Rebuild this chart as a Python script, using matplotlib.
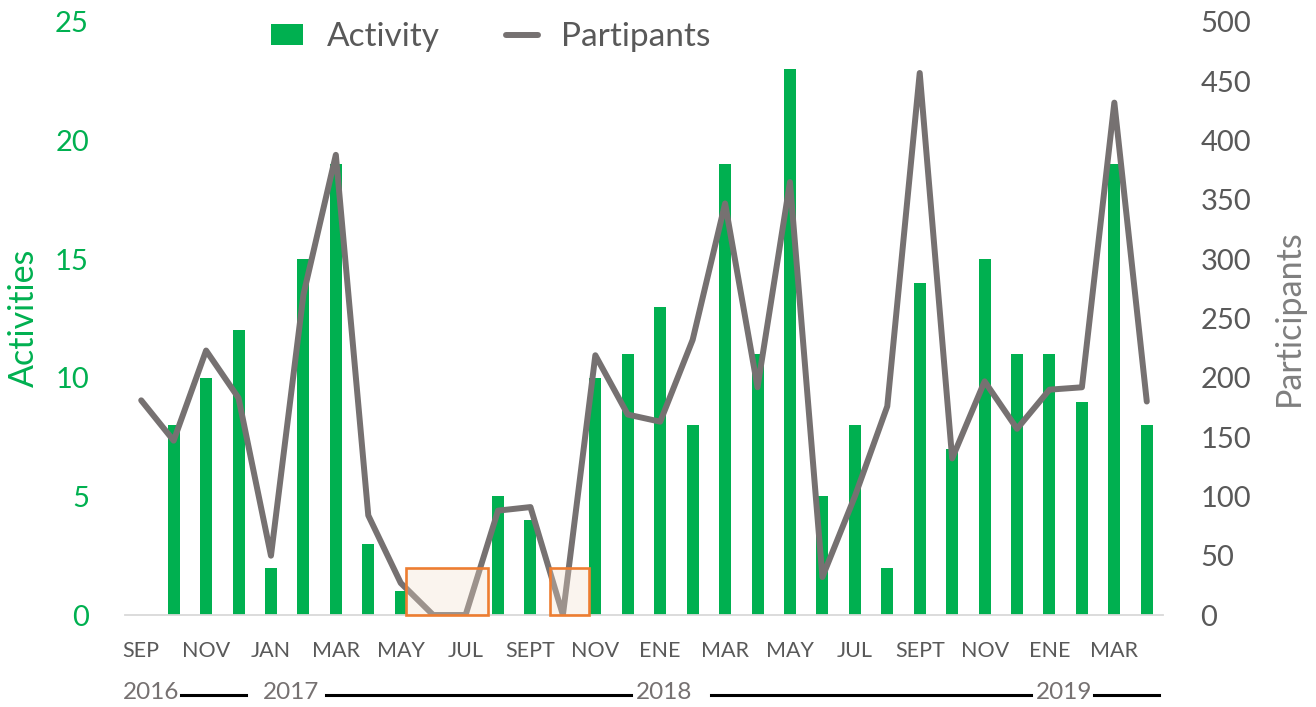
import matplotlib
matplotlib.use("Agg")
import matplotlib.pyplot as plt
from matplotlib.patches import Rectangle
from matplotlib.lines import Line2D
from matplotlib.patches import Patch
import numpy as np

plt.rcParams['font.family'] = ['Lato', 'DejaVu Sans']

months = ['SEP', 'OCT', 'NOV', 'DEC', 'JAN', 'FEB', 'MAR', 'APR', 'MAY', 'JUN', 'JUL', 'AUG',
          'SEPT', 'OCT', 'NOV', 'DEC', 'ENE', 'FEB', 'MAR', 'APR', 'MAY', 'JUN', 'JUL', 'AUG',
          'SEPT', 'OCT', 'NOV', 'DEC', 'ENE', 'FEB', 'MAR', 'APR']
activities = [0, 8, 10, 12, 2, 15, 19, 3, 1, 0, 0, 5, 4, 0, 10, 11, 13, 8, 19, 11, 23, 5, 8, 2,
              14, 7, 15, 11, 11, 9, 19, 8]
participants = [181, 147, 223, 183, 50, 270, 388, 84, 27, 0, 0, 88, 91, 0, 219, 169, 163, 232,
                347, 192, 365, 32, 100, 176, 457, 132, 197, 157, 190, 192, 432, 180]
years = ['2016', '2017', '2018', '2019']
left_ticks = [0, 5, 10, 15, 20, 25]
right_ticks = [0, 50, 100, 150, 200, 250, 300, 350, 400, 450, 500]

GREEN = '#00B050'
LINE = '#767171'
TXT = '#595959'
YEARC = '#767171'

W, H = 1316, 707
fig = plt.figure(figsize=(W / 100, H / 100), dpi=100)
ax = fig.add_axes([125 / W, 1 - 615 / H, (1163 - 125) / W, (615 - 22) / H])
ax2 = ax.twinx()

x = np.arange(len(months))
ax.bar(x, activities, width=0.37, color=GREEN, zorder=2, label='Activity')
ax2.plot(x, participants, color=LINE, lw=4.3, solid_capstyle='round',
         solid_joinstyle='round', zorder=2, label='Partipants')

ax.set_xlim(-0.5, len(months) - 0.5)
ax.set_ylim(0, 25)
ax2.set_ylim(0, 500)
ax.set_yticks(left_ticks)
ax2.set_yticks(right_ticks)

ax.set_xticks(x[::2])
ax.set_xticklabels(months[::2], fontsize=15.5, color=TXT)
ax.tick_params(axis='x', length=0, pad=19)
ax.tick_params(axis='y', length=0, pad=26, labelsize=21, labelcolor=GREEN)
ax2.tick_params(axis='y', length=0, pad=27, labelsize=21, labelcolor=TXT)

for a in (ax, ax2):
    for s in ('top', 'left', 'right', 'bottom'):
        a.spines[s].set_visible(False)
ax.spines['bottom'].set_visible(True)
ax.spines['bottom'].set_color('#D9D9D9')
ax.spines['bottom'].set_linewidth(1.3)

# highlight boxes (on top of line, semi-transparent)
for (x0, x1) in [(8.17, 10.69), (12.6, 13.8)]:
    r = Rectangle((x0, 0), x1 - x0, 2.0, transform=ax.transData,
                  facecolor=(242 / 255, 222 / 255, 203 / 255, 0.31),
                  edgecolor='#ED7D31', lw=1.9, zorder=5, clip_on=False)
    ax2.add_patch(r)

# year labels and separator lines
tr = ax.get_xaxis_transform()
year_x = [0.31, 4.62, 16.12, 28.44]
for yl, xc in zip(years, year_x):
    ax.text(xc, -0.1315, yl, transform=tr, ha='center', va='center',
            fontsize=17.5, color=YEARC, clip_on=False)
for (a0, a1) in [(1.23, 3.24), (5.70, 15.10), (17.57, 27.43), (29.37, 31.37)]:
    ax.add_line(Line2D([a0, a1], [-0.1349, -0.1349], transform=tr, color='black',
                       lw=2.2, clip_on=False))

# axis titles
fig.text(24 / W, 1 - 318 / H, 'Activities', rotation=90, ha='center', va='center',
         fontsize=24.5, color=GREEN)
fig.text(1289 / W, 1 - 318 / H, 'Participants', rotation=90, ha='center', va='center',
         fontsize=24.5, color='#7F7F7F')

handles = [Patch(facecolor=GREEN, edgecolor='none', label='Activity'),
           Line2D([0], [0], color=LINE, lw=4.3, solid_capstyle='round', label='Partipants')]
fig.legend(handles=handles, loc='center', bbox_to_anchor=(491 / W, 1 - 37 / H), ncol=2,
           frameon=False, fontsize=24, labelcolor=TXT, handlelength=0.95, handleheight=0.6,
           handletextpad=0.7, columnspacing=2.0, borderpad=0)

fig.savefig('out.png', dpi=100)
